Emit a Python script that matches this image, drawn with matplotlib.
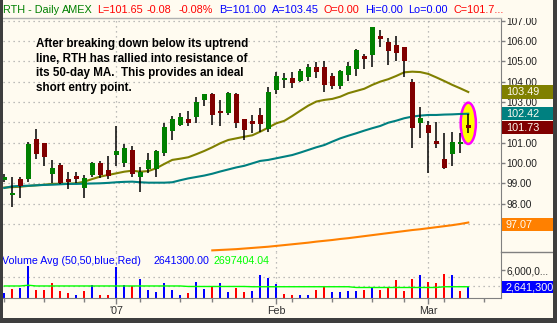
import numpy as np
import pandas as pd
import matplotlib
matplotlib.use('Agg')
import matplotlib.pyplot as plt
from matplotlib.patches import Rectangle, Ellipse
from matplotlib.lines import Line2D

plt.rcParams['font.family'] = ['Liberation Sans', 'DejaVu Sans']

# trading days Dec 11 2006 .. Mar 8 2007 (axis runs a few days further)
holidays = pd.to_datetime(['2006-12-25', '2007-01-01', '2007-01-02', '2007-01-15', '2007-02-19'])
days = pd.bdate_range('2006-12-11', '2007-03-16')
days = days[~days.isin(holidays)]

opens = [99.17, 98.41, 99.21, 99.20, 101.20, 100.97, 99.44, 99.90, 99.21, 99.36,
         98.75, 99.40, 99.98, 99.65, 100.39, 100.00, 100.64, 99.30, 99.68, 99.70,
         100.50, 101.57, 101.88, 102.15, 102.25, 103.10, 103.38, 102.57, 102.45, 103.39,
         102.15, 102.05, 102.36, 101.66, 103.59, 104.08, 104.16, 104.03, 104.24, 104.74,
         104.74, 104.28, 103.79, 104.33, 104.62, 105.26, 105.31, 106.26, 105.93, 105.80,
         105.69, 104.00, 101.95, 101.87, 101.08, 100.18, 100.46, 100.92, 101.85]
highs = [99.45, 99.30, 99.30, 101.05, 101.67, 101.00, 100.15, 100.00, 99.55, 99.57,
         99.40, 100.05, 100.10, 100.33, 101.82, 100.93, 100.84, 99.82, 100.48, 100.62,
         101.95, 102.30, 102.47, 102.55, 103.26, 103.39, 103.46, 103.10, 103.50, 103.45,
         102.16, 102.36, 102.70, 103.75, 104.49, 104.44, 104.49, 104.62, 104.87, 104.98,
         105.03, 104.41, 104.57, 104.95, 105.61, 105.36, 106.70, 106.54, 106.13, 106.26,
         105.70, 104.13, 102.74, 102.07, 102.03, 101.46, 101.51, 101.46, 102.42]
lows = [99.05, 97.85, 98.26, 99.05, 100.20, 99.87, 99.00, 98.98, 98.70, 99.00,
        98.26, 99.30, 99.25, 99.20, 99.85, 99.80, 99.33, 98.55, 99.50, 99.33,
        100.33, 101.13, 101.80, 101.80, 101.95, 102.80, 101.88, 101.80, 102.36, 101.70,
        101.13, 101.46, 101.54, 101.54, 103.39, 103.70, 103.70, 103.98, 104.05, 104.16,
        103.51, 103.64, 103.64, 104.05, 104.28, 104.62, 104.74, 105.72, 104.82, 105.03,
        104.24, 100.75, 101.24, 99.49, 100.75, 99.69, 99.87, 100.48, 101.46]
closes = [99.30, 98.54, 98.87, 100.93, 100.45, 100.31, 99.74, 99.00, 99.05, 99.20,
          99.28, 99.98, 99.41, 99.36, 100.59, 100.72, 99.45, 99.57, 100.15, 100.60,
          101.79, 102.15, 102.28, 101.98, 103.02, 103.39, 102.38, 102.44, 103.43, 101.95,
          101.62, 101.93, 101.92, 103.51, 104.28, 104.20, 103.95, 104.52, 104.74, 104.49,
          103.84, 103.80, 104.54, 104.77, 105.56, 105.11, 106.67, 106.08, 105.51, 105.43,
          105.03, 101.74, 102.23, 101.46, 100.95, 99.77, 101.03, 101.03, 101.73]

ma20 = [98.79, 98.81, 98.83, 98.87, 98.90, 98.93, 98.97, 98.98, 98.98, 99.00,
        99.08, 99.21, 99.33, 99.41, 99.49, 99.57, 99.62, 99.57, 99.60, 99.74,
        99.95, 100.15, 100.21, 100.28, 100.43, 100.59, 100.77, 100.97, 101.13, 101.21,
        101.29, 101.36, 101.54, 101.74, 101.95, 102.07, 102.31, 102.57, 102.82, 103.02,
        103.10, 103.15, 103.26, 103.43, 103.54, 103.65, 103.84, 104.00, 104.12, 104.28,
        104.46, 104.49, 104.47, 104.38, 104.21, 104.03, 103.84, 103.67, 103.49]
ma50 = [98.77, 98.85, 98.87, 98.88, 98.90, 98.92, 98.93, 98.95, 98.97, 98.97,
        98.98, 98.99, 99.00, 99.02, 99.05, 99.07, 99.08, 99.05, 99.03, 99.03,
        99.03, 99.05, 99.15, 99.24, 99.31, 99.38, 99.47, 99.58, 99.68, 99.78,
        99.86, 99.98, 100.10, 100.15, 100.23, 100.31, 100.39, 100.51, 100.64, 100.77,
        100.88, 101.05, 101.21, 101.34, 101.46, 101.59, 101.71, 101.82, 101.98, 102.08,
        102.20, 102.28, 102.33, 102.36, 102.36, 102.38, 102.39, 102.41, 102.42]
# 200-day MA only shows from the 27th bar on
ma200_start = 26
ma200 = [95.70, 95.72, 95.74, 95.76, 95.79, 95.82, 95.85, 95.88, 95.92, 95.96,
         96.00, 96.04, 96.08, 96.13, 96.17, 96.21, 96.26, 96.30, 96.35, 96.40,
         96.45, 96.50, 96.55, 96.60, 96.65, 96.70, 96.74, 96.79, 96.84, 96.89,
         96.94, 97.00, 97.07]

# volume in millions of shares
volume = [1.52, 2.25, 2.51, 6.80, 2.06, 2.06, 3.50, 1.86, 1.52, 1.07,
          1.86, 3.04, 1.07, 1.07, 6.66, 3.04, 2.85, 4.23, 2.06, 1.60,
          3.50, 2.06, 1.07, 1.52, 3.57, 2.19, 2.85, 3.38, 1.72, 2.51,
          1.72, 1.92, 5.02, 4.49, 3.24, 1.26, 1.07, 1.07, 1.07, 2.06,
          2.71, 1.72, 1.72, 1.92, 1.92, 2.06, 2.71, 2.06, 2.71, 4.03,
          1.92, 4.23, 5.02, 3.64, 3.50, 5.22, 5.02, 1.92, 2.6413]
vol_up = [1, 0, 1, 1, 0, 0, 0, 0, 0, 1,
          0, 1, 0, 0, 1, 1, 0, 1, 1, 1,
          1, 1, 1, 0, 1, 1, 0, 1, 1, 0,
          0, 1, 1, 1, 1, 0, 0, 1, 1, 0,
          0, 1, 1, 1, 1, 0, 1, 0, 0, 0,
          0, 0, 1, 0, 0, 0, 1, 0, 1]
vol_avg = [2.85, 2.85, 2.85, 3.00, 2.85, 2.85, 2.85, 2.85, 2.85, 2.85,
           2.85, 2.85, 2.85, 2.85, 2.85, 2.85, 2.85, 2.85, 2.85, 2.85,
           2.85, 2.85, 2.85, 2.75, 2.75, 2.75, 2.75, 2.75, 2.75, 2.75,
           2.75, 2.70, 2.70, 2.70, 2.70, 2.70, 2.70, 2.70, 2.70, 2.70,
           2.70, 2.70, 2.70, 2.70, 2.55, 2.55, 2.55, 2.55, 2.55, 2.55,
           2.55, 2.55, 2.55, 2.55, 2.55, 2.70, 2.70, 2.70, 2.70]

price_grid = [97, 98, 99, 100, 101, 102, 103, 104, 105, 106, 107]
# 102 and 97 sit under the value boxes, so they get no label
price_labels = [98, 99, 100, 101, 103, 104, 105, 106, 107]

CREAM = '#FFFBF0'
DARK = '#3E3E3E'
GRID = '#A8A8A8'
AXIS = '#808080'
W, H = 557, 323


def fx(px):
    return px / W


def fy(py):
    return 1 - py / H


fig = plt.figure(figsize=(W / 100, H / 100), dpi=100, facecolor=DARK)
fig.patches.append(Rectangle((fx(3), fy(317.5)), fx(550), 317.5 / H,
                             transform=fig.transFigure, facecolor=CREAM,
                             edgecolor='none', zorder=-1))

left, width = fx(3), fx(498)
ax = fig.add_axes([left, fy(252), width, (252 - 18) / H])
axv = fig.add_axes([left, fy(297.5), width, (297.5 - 252) / H], sharex=ax)
for a in (ax, axv):
    a.set_facecolor(CREAM)
    for s in a.spines.values():
        s.set_visible(False)
    a.spines['right'].set_visible(True)
    a.spines['right'].set_color(AXIS)

x = np.arange(len(closes))
n_days = len(days)
ax.set_xlim(-0.16, 62.09)
ax.set_ylim(95.62, 107.13)

# month starts / week starts
month_pos = [i for i in range(1, n_days) if days[i].month != days[i - 1].month]
week_pos = [0] + [i for i in range(1, n_days) if days[i].weekday() < days[i - 1].weekday()]
month_lbl = ["'07" if days[i].month == 1 else days[i].strftime('%b') for i in month_pos]

# grid
for p in price_grid:
    ax.axhline(p, color=GRID, lw=0.9, ls=(0, (1, 3)), zorder=0)
for p in month_pos:
    ax.axvline(p, color=GRID, lw=0.9, ls=(0, (1, 3)), zorder=0)
    axv.axvline(p, color=GRID, lw=0.9, ls=(0, (1, 3)), zorder=0)

# highlight around the last bar
ax.add_patch(Ellipse((x[-1], 101.95), 1.9, 2.03, facecolor='#FFFF00',
                     edgecolor='#FF00FF', lw=1.8, zorder=1))

# moving averages
ax.plot(x, ma20, color='#808000', lw=1.5, zorder=2)
ax.plot(x, ma50, color='#008080', lw=1.5, zorder=2)
ax.plot(x[ma200_start:], ma200, color='#FF8000', lw=1.5, zorder=2)

# candles
o = np.array(opens)
c = np.array(closes)
ax.vlines(x, lows, highs, color='black', lw=1.1, zorder=3)
body_lo = np.minimum(o, c)
body_h = np.maximum(np.abs(c - o), 0.1)
ax.bar(x, body_h, bottom=body_lo, width=0.62,
       color=np.where(c >= o, '#008000', '#800000'), linewidth=0, zorder=4)

# right price axis
ax.yaxis.tick_right()
ax.set_yticks(price_labels)
ax.set_yticklabels(['%.2f' % p for p in price_labels])
ax.tick_params(axis='y', length=3, width=1, color=AXIS, pad=1,
               labelsize=7.3, labelcolor='#202020')
ax.tick_params(axis='x', bottom=False, labelbottom=False)


def value_box(a, val, half, text, color):
    tr = a.get_yaxis_transform()
    a.add_patch(Rectangle((1.002, val - half), 0.11, 2 * half, transform=tr,
                          facecolor=color, edgecolor='none', clip_on=False, zorder=10))
    a.text(1.010, val, text, transform=tr, color=CREAM, fontsize=7.8,
           va='center', ha='left', clip_on=False, zorder=11)


value_box(ax, ma20[-1], 0.32, '%.2f' % ma20[-1], '#808000')
value_box(ax, ma50[-1], 0.32, '%.2f' % ma50[-1], '#008080')
value_box(ax, closes[-1], 0.32, '%.2f' % closes[-1], '#800000')
value_box(ax, ma200[-1] - 0.12, 0.32, '%.2f' % ma200[-1], '#FF8000')

# volume panel
axv.set_ylim(0.57, 9.57)
for g in (4.68, 2.90):
    axv.axhline(g, color=GRID, lw=0.9, ls=(0, (1, 3)), zorder=0)
axv.bar(x, volume, width=0.3, color=['#0000FF' if u else '#FF0000' for u in vol_up],
        linewidth=0, zorder=2)
axv.plot(x, vol_avg, color='#00FF00', lw=1.0, zorder=3)
axv.yaxis.tick_right()
axv.set_yticks([6])
axv.set_yticklabels(['6,000,0...'])
axv.tick_params(axis='y', length=3, width=1, color=AXIS, pad=1,
                labelsize=7.3, labelcolor='#202020')
value_box(axv, volume[-1], 1.28, '{:,.0f}'.format(volume[-1] * 1e6), '#0000FF')

axv.spines['bottom'].set_visible(True)
axv.spines['bottom'].set_color(AXIS)
axv.set_xticks(month_pos)
axv.set_xticklabels(month_lbl)
axv.set_xticks([p for p in week_pos if p not in month_pos], minor=True)
axv.tick_params(axis='x', which='major', length=4.5, width=1, color=AXIS, pad=1.5,
                labelsize=7.7, labelcolor='#303030')
axv.tick_params(axis='x', which='minor', length=3, width=1, color=AXIS)

vy = fy(261)
fig.text(fx(2), vy, 'Volume Avg (50,50,blue,Red)', color='#0000FF', fontsize=7.7, va='center')
fig.text(fx(153), vy, '2641300.00', color='#0000FF', fontsize=7.7, va='center')
fig.text(fx(213), vy, '2697404.04', color='#00FF00', fontsize=7.7, va='center')

ax.text(0.066, 0.915,
        'After breaking down below its uptrend\nline, RTH has rallied into resistance of\n'
        'its 50-day MA.  This provides an ideal\nshort entry point.',
        transform=ax.transAxes, fontsize=8.4, fontweight='bold', color='black',
        va='top', ha='left', linespacing=1.3, zorder=5)

# title strip
fig.patches.append(Rectangle((0, fy(17.5)), fx(553), 17.5 / H, transform=fig.transFigure,
                             facecolor=CREAM, edgecolor='none', zorder=5))
fig.lines.append(Line2D([0, fx(501)], [fy(17.5), fy(17.5)], transform=fig.transFigure,
                        color='#B0B0B0', lw=1.0, zorder=6))
fig.lines.append(Line2D([fx(501), fx(553)], [fy(252), fy(252)], transform=fig.transFigure,
                        color=AXIS, lw=1.0, zorder=6))
title_parts = [(3, 'RTH - Daily', '#008000'), (62, 'AMEX', '#008000'),
               (97, 'L=101.65', '#FF0000'), (147, '-0.08', '#FF0000'),
               (179, '-0.08%', '#FF0000'), (219, 'B=101.00', '#0000FF'),
               (272, 'A=103.45', '#0000FF'), (324, 'O=0.00', '#FF0000'),
               (365, 'Hi=0.00', '#0000FF'), (408, 'Lo=0.00', '#0000FF'),
               (453, 'C=101.7...', '#FF0000')]
for px, t, col in title_parts:
    fig.text(fx(px), fy(10), t, color=col, fontsize=7.8, va='center', zorder=7)

# dark frame on left, right and bottom
for rx, ry, rw, rh in [(0, 0, 3, H), (553, 0, 4, H), (0, 317.5, W, 5.5)]:
    fig.patches.append(Rectangle((fx(rx), fy(ry + rh)), fx(rw), rh / H,
                                 transform=fig.transFigure, facecolor=DARK,
                                 edgecolor='none', zorder=20))

fig.savefig('out.png', dpi=100, facecolor=DARK)
